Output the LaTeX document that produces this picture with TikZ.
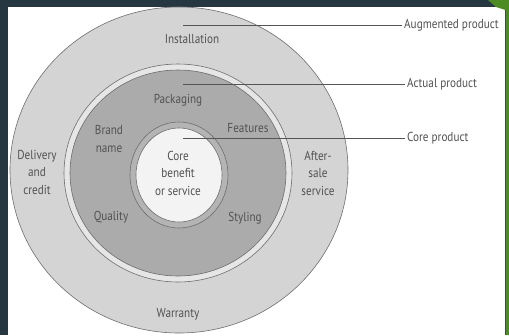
\documentclass[tikz,border=0pt]{standalone}
\usepackage{fontspec}
\setmainfont[FakeStretch=0.86]{PT Sans}
\begin{document}
\begin{tikzpicture}[x=1pt,y=-1pt,
  every node/.style={inner sep=0pt, text=txt, align=center,
    font=\fontsize{13}{17.5}\selectfont},
  ringline/.style={draw=edge, line width=0.6pt},
  leader/.style={draw=lead, line width=0.8pt, shorten >=2.5pt}]
\definecolor{frame}{HTML}{263741}
\definecolor{leaf}{HTML}{4E8C23}
\definecolor{txt}{HTML}{525252}
\definecolor{edge}{HTML}{6E6E6E}
\definecolor{lead}{HTML}{555555}
\definecolor{augfill}{HTML}{D4D4D4}
\definecolor{bandfill}{HTML}{E6E6E6}
\definecolor{actfill}{HTML}{ABABAB}
\definecolor{corering}{HTML}{B4B4B4}
\definecolor{corefill}{HTML}{F3F3F3}
\useasboundingbox (0,0) rectangle (509,335);

% slide frame
\fill[frame] (0,0) rectangle (509,335);
\fill[white] (8,7) rectangle (505,335);
\fill[leaf] (488,0) -- (509,0) -- (509,335) -- (505.5,335) -- (505.5,10) -- (496,7) -- cycle;

% augmented product
\path[ringline, fill=augfill] (179,170) ellipse [x radius=169pt, y radius=163pt];
% actual product with its light band
\path[ringline, fill=bandfill] (178,173) ellipse [x radius=114pt, y radius=109pt];
\path[ringline, fill=actfill] (178,173) ellipse [x radius=108pt, y radius=103pt];
% core product
\path[ringline, fill=corering] (179,175) ellipse [x radius=49pt, y radius=53pt];
\path[ringline, fill=corefill] (179,175) ellipse [x radius=43pt, y radius=47pt];

% ring labels
\node (inst) at (192,39) {Installation};
\node (deliv) at (37,172) {Delivery\\and\\credit};
\node (after) at (318,173) {After-\\sale\\service};
\node (warr) at (178,314) {Warranty};
\node (pack) at (178,100) {Packaging};
\node (brand) at (109,139) {Brand\\name};
\node (feat) at (248,128) {Features};
\node (qual) at (111,217) {Quality};
\node (styl) at (245,218) {Styling};
\node (core) at (178,173) {Core\\benefit\\or service};

% level names with their leader lines
\node[anchor=west] (aug) at (404,25) {Augmented product};
\node[anchor=west] (act) at (407,84) {Actual product};
\node[anchor=west] (cor) at (407,138) {Core product};
\coordinate (augp) at (183,25);
\coordinate (actp) at (183,84);
\coordinate (corp) at (183,138);
\draw[leader] (augp) -- (aug.west);
\draw[leader] (actp) -- (act.west);
\draw[leader] (corp) -- (cor.west);
\end{tikzpicture}
\end{document}
